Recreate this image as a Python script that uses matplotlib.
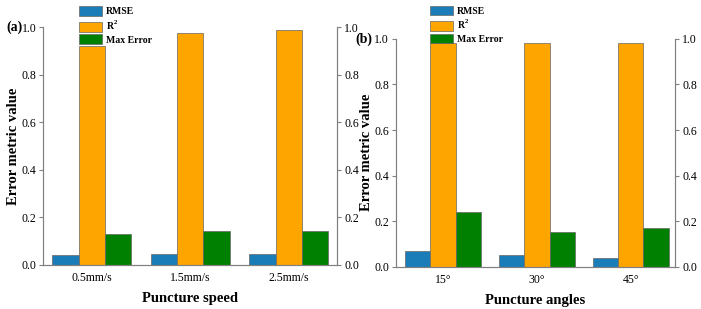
import matplotlib.pyplot as plt
import numpy as np

plt.rcParams['font.family'] = ['Liberation Serif', 'DejaVu Serif']

# Données
speed_labels = ['0.5mm/s', '1.5mm/s', '2.5mm/s']
speed_rmse = [0.042, 0.048, 0.047]
speed_r2 = [0.920, 0.975, 0.989]
speed_maxerr = [0.129, 0.141, 0.143]

angle_labels = ['15°', '30°', '45°']
angle_rmse = [0.070, 0.053, 0.040]
angle_r2 = [0.982, 0.982, 0.982]
angle_maxerr = [0.240, 0.152, 0.171]

colors = ['#1a7db8', '#ffa500', '#008000']
names = ['RMSE', 'R$^\\mathregular{2}$', 'Max Error']
gray = '#808080'


def panel(fig, rect, cats, rmse, r2, maxerr, xlabel, tag, tagx, leg_anchor, xlim):
    ax = fig.add_axes(rect)
    x = np.arange(len(cats))
    w = 0.267
    for i, vals in enumerate([rmse, r2, maxerr]):
        ax.bar(x + (i - 1) * w, vals, w, color=colors[i], edgecolor='#666666',
               linewidth=0.5, label=names[i])
    ax.set_xlim(*xlim)
    ax.set_ylim(0, 1.0)
    ax.set_xticks(x)
    ax.set_xticklabels(cats, fontsize=8.5)
    ax.tick_params(axis='x', length=0, pad=5)
    ax.set_yticks([0, 0.2, 0.4, 0.6, 0.8, 1.0])
    ax.set_yticklabels(['0.0', '0.2', '0.4', '0.6', '0.8', '1.0'], fontsize=8.5)
    ax.tick_params(axis='y', length=3, color=gray, pad=2)
    ax.spines['top'].set_visible(False)
    for s in ['left', 'bottom', 'right']:
        ax.spines[s].set_color(gray)
    ax.set_xlabel(xlabel, fontsize=10.5, fontweight='bold', labelpad=6)
    ax.set_ylabel('Error metric value', fontsize=10.5, fontweight='bold', labelpad=1)

    # Axe droit
    ax2 = ax.twinx()
    ax2.set_ylim(0, 1.0)
    ax2.set_yticks([0, 0.2, 0.4, 0.6, 0.8, 1.0])
    ax2.set_yticklabels(['0.0', '0.2', '0.4', '0.6', '0.8', '1.0'], fontsize=8.5)
    ax2.tick_params(axis='y', length=3, color=gray, pad=2)
    ax2.spines['top'].set_visible(False)
    for s in ['left', 'bottom', 'right']:
        ax2.spines[s].set_color(gray)

    ax.text(tagx, 1.0, tag, transform=ax.transAxes, ha='right', va='center',
            fontsize=10, fontweight='bold')

    leg = ax.legend(loc='upper left', bbox_to_anchor=leg_anchor, frameon=False,
                    prop={'weight': 'bold', 'size': 7}, borderpad=0, borderaxespad=0,
                    handlelength=2.35, handleheight=1.15, labelspacing=0.25,
                    handletextpad=0.4)
    leg.set_zorder(10)
    return ax


fig = plt.figure(figsize=(7.01, 3.09), dpi=100)
panel(fig, [0.062, 0.1424, 0.419, 0.770], speed_labels, speed_rmse, speed_r2,
      speed_maxerr, 'Puncture speed', '(a)', -0.072, (0.121, 1.087), (-0.49, 2.49))
panel(fig, [0.565, 0.137, 0.398, 0.737], angle_labels, angle_rmse, angle_r2,
      angle_maxerr, 'Puncture angles', '(b)', -0.085, (0.122, 1.146), (-0.5, 2.47))

fig.savefig('out.png', dpi=100)
